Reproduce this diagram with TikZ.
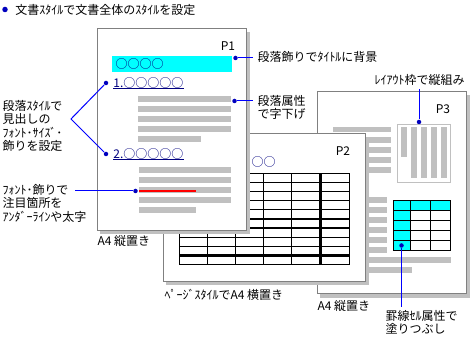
\documentclass[tikz,border=0pt]{standalone}
\usepackage{fontspec}
\newfontfamily\jp{Noto Sans CJK JP}
\definecolor{linkblue}{RGB}{0,0,255}
\definecolor{dotblue}{RGB}{0,0,190}
\definecolor{navy}{RGB}{0,0,128}
\definecolor{barcyan}{RGB}{0,255,255}
\definecolor{bargray}{RGB}{192,192,192}
\definecolor{edgegray}{RGB}{128,128,128}
\definecolor{linered}{RGB}{255,0,0}

\begin{document}
\begin{tikzpicture}[x=1pt, y=-1pt, line width=1pt,
  every node/.style={font=\jp\fontsize{12}{13.3}\selectfont, inner sep=0pt},
  page/.style={draw=edgegray, fill=white},
  shadow/.style={fill=bargray},
  bar/.style={fill=bargray},
  dot/.style={circle, fill=dotblue, minimum size=4.5pt},
  link/.style={draw=linkblue},
  note/.style={anchor=north west, align=left},
  head/.style={anchor=west, text=navy}]
  \useasboundingbox[fill=white] (0,0) rectangle (475,339);

  % page 3, vertical layout frame and shaded cells
  \fill[shadow] (320,95) rectangle (470,298);
  \draw[page] (317,92) rectangle (466,294);
  \node (P3) at (443,109) {P3};
  \fill[bar] (333,127) rectangle (391,132.5);
  \foreach \y in {140,150,160,170} \fill[bar] (333,\y-2.75) rectangle (391,\y+2.75);
  \foreach \y in {200,210,...,250} \fill[bar] (333,\y-2.75) rectangle (387,\y+2.75);
  \fill[bar] (333,257.25) rectangle (451,262.75);
  \fill[bar] (333,267.25) rectangle (412,272.75);
  \draw[bargray] (397.5,124.5) rectangle (450.5,182.5);
  \fill[bar] (401,127.5) rectangle (406.5,157.5);
  \foreach \x in {411,421,431,441} \fill[bar] (\x,127.5) rectangle (\x+5.5,178.5);
  \fill[barcyan] (393.5,200.5) rectangle (450.5,210.5);
  \fill[barcyan] (393.5,200.5) rectangle (410.5,250.5);
  \foreach \y in {200.5,210.5,...,250.5} \draw[line width=1.4pt] (392.8,\y) -- (451.2,\y);
  \foreach \x in {393.5,410.5,430.5,450.5} \draw[line width=1.4pt] (\x,200.5) -- (\x,250.5);
  \node[dot] (frame) at (419,122) {};
  \node[dot] (cell) at (401.5,245.5) {};

  % page 2, landscape table
  \fill[shadow] (166,137) rectangle (369,285);
  \draw[page] (163,134) rectangle (365.5,282);
  \node (P2) at (343,151) {P2};
  \node[head] (h3) at (251,162) {○○};
  \foreach \k in {0,...,8,10} \draw[line width=1.2pt] (179,173.5+9.1*\k) -- (350,173.5+9.1*\k);
  \draw[line width=3pt] (179,255.4) -- (350,255.4);
  \foreach \x in {179.5,207.5,235.5,263.5,291.5,349.5} \draw[line width=1.2pt] (\x,173.5) -- (\x,264.5);
  \draw[line width=3pt] (320.5,173.5) -- (320.5,264.5);

  % page 1
  \fill[shadow] (100,32) rectangle (249.5,234.5);
  \draw[page] (97,29) rectangle (246,231);
  \node (P1) at (228,46) {P1};
  \fill[barcyan] (112,56) rectangle (232,72);
  \node[head] (title) at (115,64) {○○○○};
  \node[head] (h1) at (113,83) {1.○○○○○};
  \draw[navy] ([yshift=-6pt]h1.west) -- ([yshift=-6pt]h1.east);
  \foreach \y in {99,109,119,129} \fill[bar] (138,\y-2.75) rectangle (231,\y+2.75);
  \fill[bar] (138,136.25) rectangle (201,141.75);
  \node[head] (h2) at (113,154) {2.○○○○○};
  \draw[navy] ([yshift=-6pt]h2.west) -- ([yshift=-6pt]h2.east);
  \foreach \y in {170,180,190,200} \fill[bar] (139,\y-2.75) rectangle (231,\y+2.75);
  \fill[bar] (139,207.25) rectangle (196,212.75);
  \fill[linered] (139,190.5) rectangle (196,192.5);
  \node[dot] (d1) at (235.5,58) {};
  \node[dot] (d2) at (234.5,101) {};
  \node[dot] (d3) at (106,83) {};
  \node[dot] (d4) at (106,154) {};
  \node[dot] (d5) at (135.5,191) {};

  % labels
  \node[dot, minimum size=5.5pt] (bullet) at (5,9.5) {};
  \node[anchor=west] (doc) at (15,10) {文書ｽﾀｲﾙで文書全体のｽﾀｲﾙを設定};
  \node[anchor=west] (t1) at (257,57) {段落飾りでﾀｲﾄﾙに背景};
  \node[note] (t2) at (257,95) {段落属性\\で字下げ};
  \node[note] (t3) at (2,100) {段落ｽﾀｲﾙで\\見出しの\\ﾌｫﾝﾄ･ｻｲｽﾞ･\\飾りを設定};
  \node[note] (t4) at (2,184) {ﾌｫﾝﾄ･飾りで\\注目箇所を\\ｱﾝﾀﾞｰﾗｲﾝや太字};
  \node[anchor=west] (a4p1) at (97,241) {A4 縦置き};
  \node[anchor=west] (a4p2) at (164,295) {ﾍﾟｰｼﾞｽﾀｲﾙでA4 横置き};
  \node[anchor=west] (a4p3) at (317,306) {A4 縦置き};
  \node[anchor=west] (t8) at (374,80) {ﾚｲｱｳﾄ枠で縦組み};
  \node[note] (t9) at (385,310) {罫線ｾﾙ属性で\\塗りつぶし};
  \coordinate (apex) at (71,119);
  \coordinate (c5) at (75,191);

  \draw[link, shorten >=4pt] (d1) -- (t1.west |- d1);
  \draw[link, shorten >=4pt] (d2) -- (t2.west |- d2);
  \draw[link] (d3) -- (apex) -- (d4);
  \draw[link] (c5) -- (d5);
  \draw[link, shorten >=3pt] (frame) -- (frame |- t8.south);
  \draw[link, shorten >=3pt] (cell) -- (cell |- t9.north);
\end{tikzpicture}
\end{document}
